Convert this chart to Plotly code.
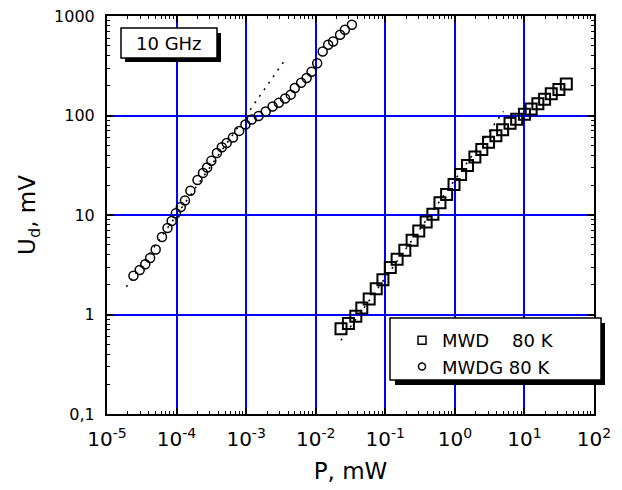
import plotly.graph_objects as go

# ---- data ----
mwd_p = [0.0231, 0.0295, 0.0377, 0.0460, 0.0587, 0.0741, 0.0925, 0.118, 0.148, 0.191,
         0.243, 0.303, 0.387, 0.483, 0.611, 0.762, 0.973, 1.21, 1.52, 1.94,
         2.44, 3.05, 3.89, 4.86, 6.21, 7.74, 10.0, 12.5, 15.6, 19.5,
         24.3, 31.3, 40.0]
mwd_u = [0.72, 0.81, 0.96, 1.16, 1.43, 1.81, 2.24, 2.97, 3.6, 4.43,
         5.58, 6.92, 8.5, 10.2, 13.3, 16.1, 20.3, 25.5, 31.4, 38.3,
         45.4, 53.7, 62.6, 71.9, 83.8, 91.9, 103, 116, 131, 146,
         165, 183, 207]

mwdg_p = [2.40e-5, 2.95e-5, 3.55e-5, 4.17e-5, 5.01e-5, 6.17e-5, 7.41e-5, 8.51e-5, 9.77e-5, 1.15e-4,
          1.32e-4, 1.58e-4, 2.00e-4, 2.40e-4, 2.75e-4, 3.16e-4, 3.80e-4, 4.47e-4, 5.25e-4, 6.46e-4,
          7.94e-4, 9.77e-4, 1.20e-3, 1.51e-3, 1.91e-3, 2.40e-3, 2.95e-3, 3.63e-3, 4.37e-3, 5.01e-3,
          6.17e-3, 7.41e-3, 8.71e-3, 1.05e-2, 1.26e-2, 1.51e-2, 1.78e-2, 2.24e-2, 2.63e-2, 3.31e-2]
mwdg_u = [2.45, 2.8, 3.2, 3.7, 4.5, 6.0, 7.4, 8.7, 10.4, 12.0,
          14.0, 17.5, 22.5, 26.5, 30, 35, 42, 48, 53, 60,
          70, 81, 91, 99, 110, 123, 134, 148, 162, 189,
          213, 238, 275, 335, 440, 514, 555, 647, 727, 816]

fit_mwdg_p = [1.9e-5, 3.8e-3]
fit_mwdg_u = [1.9, 380]
fit_mwd_p = [0.023, 5.0]
fit_mwd_u = [0.55, 110]

series_names = ["MWD\u00a0\u00a0\u00a0 80 K", "MWDG 80 K"]

x_tickvals = [1e-5, 1e-4, 1e-3, 1e-2, 1e-1, 1e0, 1e1, 1e2]
x_ticktext = ["10<sup>-5</sup>", "10<sup>-4</sup>", "10<sup>-3</sup>", "10<sup>-2</sup>",
              "10<sup>-1</sup>", "10<sup>0</sup>", "10<sup>1</sup>", "10<sup>2</sup>"]
y_tickvals = [0.1, 1, 10, 100, 1000]
y_ticktext = ["0,1", "1", "10", "100", "1000"]

x_minor = [m * 10 ** e for e in range(-5, 2) for m in range(2, 10)]
y_minor = [m * 10 ** e for e in range(-1, 3) for m in range(2, 10)]

FONT = "DejaVu Sans"
BLUE = "#0000FF"

fig = go.Figure()

fig.add_trace(go.Scatter(x=fit_mwdg_p, y=fit_mwdg_u, mode="lines",
                         line=dict(color="black", width=1.5, dash="2px,6px"),
                         showlegend=False, hoverinfo="skip"))
fig.add_trace(go.Scatter(x=fit_mwd_p, y=fit_mwd_u, mode="lines",
                         line=dict(color="black", width=1.5, dash="2px,6px"),
                         showlegend=False, hoverinfo="skip"))

fig.add_trace(go.Scatter(x=mwd_p, y=mwd_u, mode="markers", name=series_names[0], showlegend=False,
                         marker=dict(symbol="square-open", size=11, color="black",
                                     line=dict(width=2, color="black"))))
fig.add_trace(go.Scatter(x=mwdg_p, y=mwdg_u, mode="markers", name=series_names[1], showlegend=False,
                         marker=dict(symbol="circle-open", size=9, color="black",
                                     line=dict(width=1.5, color="black"))))

# legend-only entries (smaller symbols, as in the reference legend)
fig.add_trace(go.Scatter(x=[None], y=[None], mode="markers", name=series_names[0],
                         marker=dict(symbol="square-open", size=8, color="black",
                                     line=dict(width=1.5, color="black"))))
fig.add_trace(go.Scatter(x=[None], y=[None], mode="markers", name=series_names[1],
                         marker=dict(symbol="circle-open", size=7, color="black",
                                     line=dict(width=1.5, color="black"))))

# page has an 8px body margin; figure sized to fit the window
OFF = 8
W, H = 622 - OFF, 490 - OFF
L, T = 107 - OFF, 16 - OFF
R = W - (594 - OFF)
B = H - (414 - OFF)
pw, ph = W - L - R, H - T - B


def px_x(p):
    return (p - OFF - L) / pw


def px_y(p):
    return (H - B - (p - OFF)) / ph


shapes = [
    dict(type="rect", xref="paper", yref="paper", x0=px_x(125), x1=px_x(221), y0=px_y(62), y1=px_y(33),
         fillcolor="black", line=dict(width=0), layer="above"),
    dict(type="rect", xref="paper", yref="paper", x0=px_x(121), x1=px_x(217), y0=px_y(58), y1=px_y(28),
         fillcolor="white", line=dict(color="black", width=1.5), layer="above"),
    dict(type="rect", xref="paper", yref="paper", x0=px_x(395), x1=px_x(605), y0=px_y(385), y1=px_y(323),
         fillcolor="black", line=dict(width=0), layer="above"),
    dict(type="rect", xref="paper", yref="paper", x0=px_x(390), x1=px_x(601), y0=px_y(380), y1=px_y(318),
         fillcolor="white", line=dict(color="black", width=1.5), layer="above"),
]

fig.update_layout(
    width=W, height=H,
    margin=dict(l=L, r=R, t=T, b=B, pad=0, autoexpand=False),
    paper_bgcolor="white", plot_bgcolor="white",
    font=dict(family=FONT, color="black", size=18),
    shapes=shapes,
    showlegend=True,
    legend=dict(x=px_x(402), y=px_y(322), xanchor="left", yanchor="top",
                bgcolor="rgba(0,0,0,0)", borderwidth=0,
                font=dict(family=FONT, size=18, color="black"),
                itemwidth=30, tracegroupgap=0),
    annotations=[dict(text="10 GHz", xref="paper", yref="paper",
                      x=px_x(169), y=px_y(43), xanchor="center", yanchor="middle",
                      showarrow=False, font=dict(family=FONT, size=18, color="black"))],
)

fig.update_xaxes(
    type="log", range=[-5, 2], automargin=False,
    tickvals=x_tickvals, ticktext=x_ticktext,
    tickfont=dict(family=FONT, size=20), ticklabelstandoff=6, ticklabeloverflow="allow",
    showgrid=True, gridcolor=BLUE, gridwidth=2,
    ticks="inside", ticklen=6, tickwidth=1.5, tickcolor="black",
    showline=True, linecolor="black", linewidth=2, mirror="allticks",
    zeroline=False,
    minor=dict(tickvals=x_minor, ticks="inside", ticklen=3, tickwidth=1, tickcolor="black", showgrid=False),
    title=dict(text="P, mW", font=dict(family=FONT, size=23), standoff=13),
)
fig.update_yaxes(
    type="log", range=[-1, 3], automargin=False,
    tickvals=y_tickvals, ticktext=y_ticktext,
    tickfont=dict(family=FONT, size=16), ticklabelstandoff=7, ticklabeloverflow="allow",
    showgrid=True, gridcolor=BLUE, gridwidth=2,
    ticks="inside", ticklen=6, tickwidth=1.5, tickcolor="black",
    showline=True, linecolor="black", linewidth=2, mirror="allticks",
    zeroline=False,
    minor=dict(tickvals=y_minor, ticks="inside", ticklen=3, tickwidth=1, tickcolor="black", showgrid=False),
    title=dict(text="U<sub>d</sub>, mV", font=dict(family=FONT, size=23), standoff=12),
)

fig.write_html("out.html")
